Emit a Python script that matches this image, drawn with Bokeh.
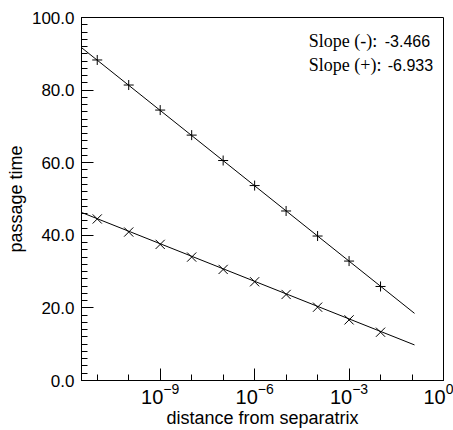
from bokeh.plotting import figure
from bokeh.models import Range1d, FixedTicker, PrintfTickFormatter, Label
from bokeh.embed import file_html
from bokeh.resources import INLINE

# ---- data ----
dist = [1e-11, 1e-10, 1e-9, 1e-8, 1e-7, 1e-6, 1e-5, 1e-4, 1e-3, 1e-2]
time_plus = [88.3, 81.4, 74.5, 67.6, 60.6, 53.7, 46.7, 39.8, 32.9, 25.9]
time_minus = [44.5, 40.9, 37.5, 34.0, 30.6, 27.2, 23.7, 20.2, 16.7, 13.3]
fit_x = [10 ** -11.5, 0.12]
fit_plus = [91.7, 18.5]
fit_minus = [46.3, 9.8]
slope_labels = ["Slope (-):", "Slope (+):"]
slope_values = ["-3.466", "-6.933"]
x_major = [1e-9, 1e-6, 1e-3, 1.0]
x_minor = [10.0 ** e for e in range(-12, 1)]
y_major = [0, 20, 40, 60, 80, 100]
y_minor = list(range(0, 101, 2))

SANS = "Liberation Sans"
SERIF = "Liberation Serif"

p = figure(width=453, height=430, x_axis_type="log",
           x_range=Range1d(10 ** -11.5, 1.0), y_range=Range1d(0, 100),
           output_backend="svg", toolbar_location=None,
           min_border_left=81, min_border_right=10,
           min_border_top=17, min_border_bottom=50)

p.xgrid.visible = False
p.ygrid.visible = False
p.outline_line_color = "black"
p.outline_line_width = 1
p.background_fill_color = "white"
p.border_fill_color = "white"

# axes
for ax in (p.xaxis[0], p.yaxis[0]):
    ax.axis_line_color = "black"
    ax.major_tick_line_color = "black"
    ax.minor_tick_line_color = "black"
    ax.major_tick_in = 12
    ax.major_tick_out = 0
    ax.minor_tick_in = 6
    ax.minor_tick_out = 0
    ax.major_label_text_font = SANS
    ax.major_label_text_font_size = "17px"
    ax.major_label_text_color = "black"
    ax.axis_label_text_font = SANS
    ax.axis_label_text_font_size = "18px"
    ax.axis_label_text_font_style = "normal"
    ax.axis_label_text_color = "black"

p.xaxis[0].ticker = FixedTicker(ticks=x_major, minor_ticks=x_minor)
p.xaxis[0].major_label_text_font_size = "20px"
p.yaxis[0].ticker = FixedTicker(ticks=y_major, minor_ticks=y_minor)
p.yaxis[0].formatter = PrintfTickFormatter(format="%.1f")
p.yaxis[0].major_label_standoff = 7
p.yaxis[0].axis_label_standoff = 3
p.xaxis[0].major_label_standoff = 2
p.xaxis[0].axis_label_standoff = 1
p.xaxis.axis_label = "distance from separatrix"
p.yaxis.axis_label = "passage time"

# fit lines
p.line(fit_x, fit_plus, line_color="black", line_width=1)
p.line(fit_x, fit_minus, line_color="black", line_width=1)

# markers
p.scatter(dist, time_plus, marker="cross", size=10, line_color="black", line_width=1)
p.scatter(dist, time_minus, marker="x", size=13, line_color="black", line_width=1)

# slope annotations
label_x = 10 ** -4.28
label_y = [93.4, 86.8]
num_offset = [76, 79]
for lab, val, yy, off in zip(slope_labels, slope_values, label_y, num_offset):
    p.add_layout(Label(x=label_x, y=yy, text=lab, text_font=SERIF,
                       text_font_size="18px", text_baseline="middle",
                       text_color="black"))
    p.add_layout(Label(x=label_x, y=yy, x_offset=off, text=val, text_font=SANS,
                       text_font_size="16px", text_baseline="middle",
                       text_color="black"))

open("out.html", "w").write(file_html(p, INLINE))
